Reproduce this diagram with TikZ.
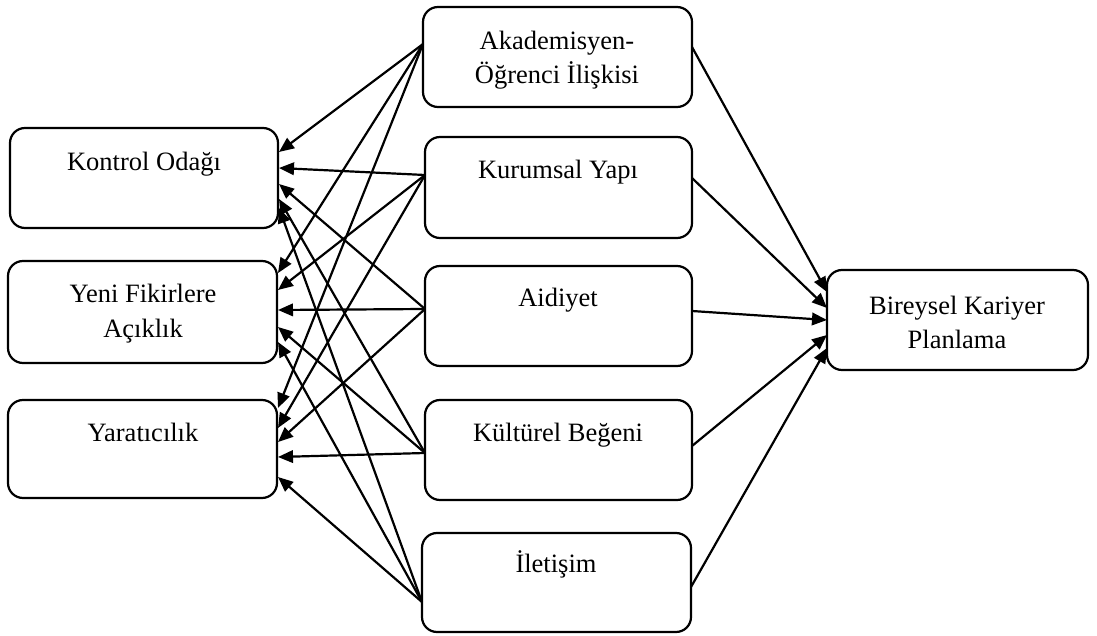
\documentclass[tikz,border=0pt]{standalone}
\usepackage{fontspec}
\setmainfont{Liberation Serif}
\usetikzlibrary{arrows.meta}
\begin{document}
\begin{tikzpicture}[x=1pt,y=-1pt,
 box/.style={draw, line width=2.2pt, rounded corners=15pt, inner sep=0pt, outer sep=0pt, anchor=north west},
 lbl/.style={anchor=base, font=\fontsize{26.5}{33}\selectfont, inner sep=0pt},
 arr/.style={line width=2.2pt, -{Triangle[length=15pt,width=12.5pt]}}]
\useasboundingbox (0,0) rectangle (1097,636);
% left boxes
\node[box, minimum width=268pt, minimum height=100pt] (ko) at (10,128) {};
\node[box, minimum width=269pt, minimum height=102pt] (yf) at (8,261) {};
\node[box, minimum width=269pt, minimum height=98pt] (ya) at (8,400) {};
% middle boxes
\node[box, minimum width=269pt, minimum height=100pt] (ak) at (423,7) {};
\node[box, minimum width=267pt, minimum height=101pt] (ku) at (425,137) {};
\node[box, minimum width=267pt, minimum height=100pt] (ai) at (425,266) {};
\node[box, minimum width=267pt, minimum height=100pt] (kb) at (425,400) {};
\node[box, minimum width=269pt, minimum height=99pt] (il) at (422,533) {};
% right box
\node[box, minimum width=261pt, minimum height=100pt] (bk) at (827,270) {};
% labels
\node[lbl] (tko) at (144,171) {Kontrol Odağı};
\node[lbl] (tyf1) at (143,302) {Yeni Fikirlere};
\node[lbl] (tyf2) at (143,337) {Açıklık};
\node[lbl] (tya) at (143,441) {Yaratıcılık};
\node[lbl] (tak1) at (557,50) {Akademisyen-};
\node[lbl] (tak2) at (557,84) {Öğrenci İlişkisi};
\node[lbl] (tku) at (558,179) {Kurumsal Yapı};
\node[lbl] (tai) at (558,306) {Aidiyet};
\node[lbl] (tkb) at (558,441) {Kültürel Beğeni};
\node[lbl] (til) at (556,572) {İletişim};
\node[lbl] (tbk1) at (957,314) {Bireysel Kariyer};
\node[lbl] (tbk2) at (957,348) {Planlama};
% source points on middle boxes (left side)
\coordinate (akL) at (423,44);
\coordinate (kuL) at (425,175);
\coordinate (aiL) at (425,309);
\coordinate (kbL) at (425,453);
\coordinate (ilL) at (422,602);
% source points on middle boxes (right side)
\coordinate (akR) at (692,47);
\coordinate (kuR) at (692,178);
\coordinate (aiR) at (692,311);
\coordinate (kbR) at (692,446);
\coordinate (ilR) at (691,587);
% targets on left boxes
\coordinate (ko1) at (279,152);
\coordinate (ko2) at (279,168);
\coordinate (ko3) at (279,184);
\coordinate (ko4) at (279,199);
\coordinate (ko5) at (279,208);
\coordinate (yf1) at (278,273);
\coordinate (yf2) at (278,290);
\coordinate (yf3) at (278,310);
\coordinate (yf4) at (278,327);
\coordinate (yf5) at (278,342);
\coordinate (ya1) at (278,408);
\coordinate (ya2) at (278,428);
\coordinate (ya3) at (278,442);
\coordinate (ya4) at (278,457);
\coordinate (ya5) at (278,477);
% targets on right box
\coordinate (bk1) at (827,292);
\coordinate (bk2) at (827,308);
\coordinate (bk3) at (827,320);
\coordinate (bk4) at (827,335);
\coordinate (bk5) at (827,348);
% arrows to the left
\draw[arr] (akL) -- (ko1);
\draw[arr] (kuL) -- (ko2);
\draw[arr] (aiL) -- (ko3);
\draw[arr] (kbL) -- (ko4);
\draw[arr] (ilL) -- (ko5);
\draw[arr] (akL) -- (yf1);
\draw[arr] (kuL) -- (yf2);
\draw[arr] (aiL) -- (yf3);
\draw[arr] (kbL) -- (yf4);
\draw[arr] (ilL) -- (yf5);
\draw[arr] (akL) -- (ya1);
\draw[arr] (kuL) -- (ya2);
\draw[arr] (aiL) -- (ya3);
\draw[arr] (kbL) -- (ya4);
\draw[arr] (ilL) -- (ya5);
% arrows to the right
\draw[arr] (akR) -- (bk1);
\draw[arr] (kuR) -- (bk2);
\draw[arr] (aiR) -- (bk3);
\draw[arr] (kbR) -- (bk4);
\draw[arr] (ilR) -- (bk5);
\end{tikzpicture}
\end{document}
